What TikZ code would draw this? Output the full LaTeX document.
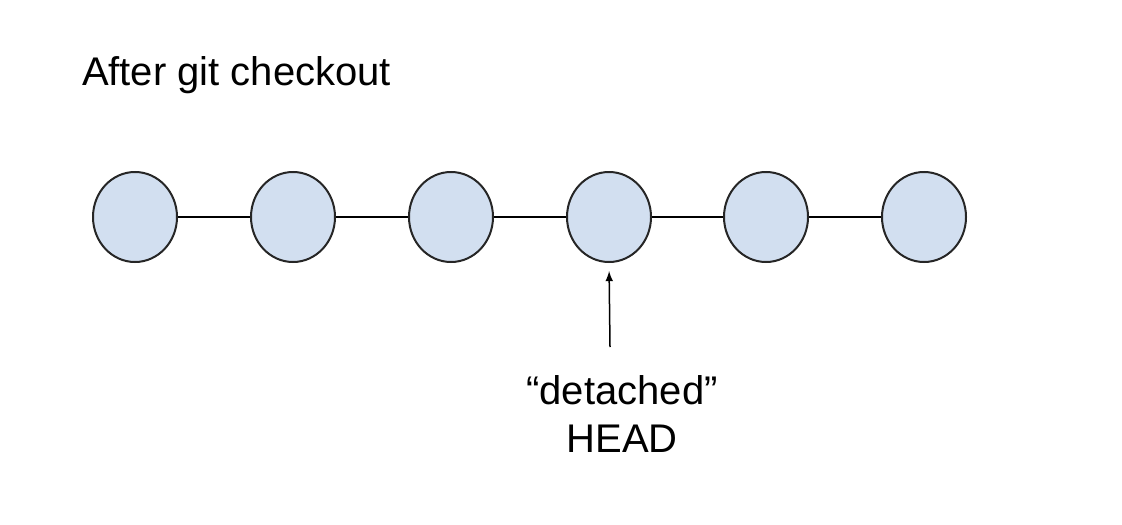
\documentclass[tikz,border=0pt]{standalone}
\usepackage{fontspec}
\setmainfont{Liberation Sans}
\usetikzlibrary{shapes.geometric}
\definecolor{commitfill}{RGB}{210,223,240}
\begin{document}
\begin{tikzpicture}
			[x=0.5pt,y=-0.5pt,commit/.style={ellipse,draw=black!85,line width=1pt,fill=commitfill,minimum width=42pt,minimum height=45pt,inner sep=0pt},txt/.style={font=\fontsize{20}{24}\selectfont,align=center},>=latex]
			\useasboundingbox (0,0) rectangle (1122,524);
			\node[txt,anchor=west,name=title] at (75,75) {After git checkout};
			\node[commit,name=c1] at (135,217) {};
			\node[commit,name=c2] at (293,217) {};
			\node[commit,name=c3] at (451,217) {};
			\node[commit,name=c4] at (609,217) {};
			\node[commit,name=c5] at (766,217) {};
			\node[commit,name=c6] at (924,217) {};
			\node[txt,name=head] at (622,414) {“detached”\\HEAD};
			\coordinate (tail) at (610,347);
			\draw[-,line width=0.75pt](c1)--(c2);
			\draw[-,line width=0.75pt](c2)--(c3);
			\draw[-,line width=0.75pt](c3)--(c4);
			\draw[-,line width=0.75pt](c4)--(c5);
			\draw[-,line width=0.75pt](c5)--(c6);
			\draw[->,line width=0.75pt,shorten >=4pt](tail)--(c4.south);
		\end{tikzpicture}
\end{document}
